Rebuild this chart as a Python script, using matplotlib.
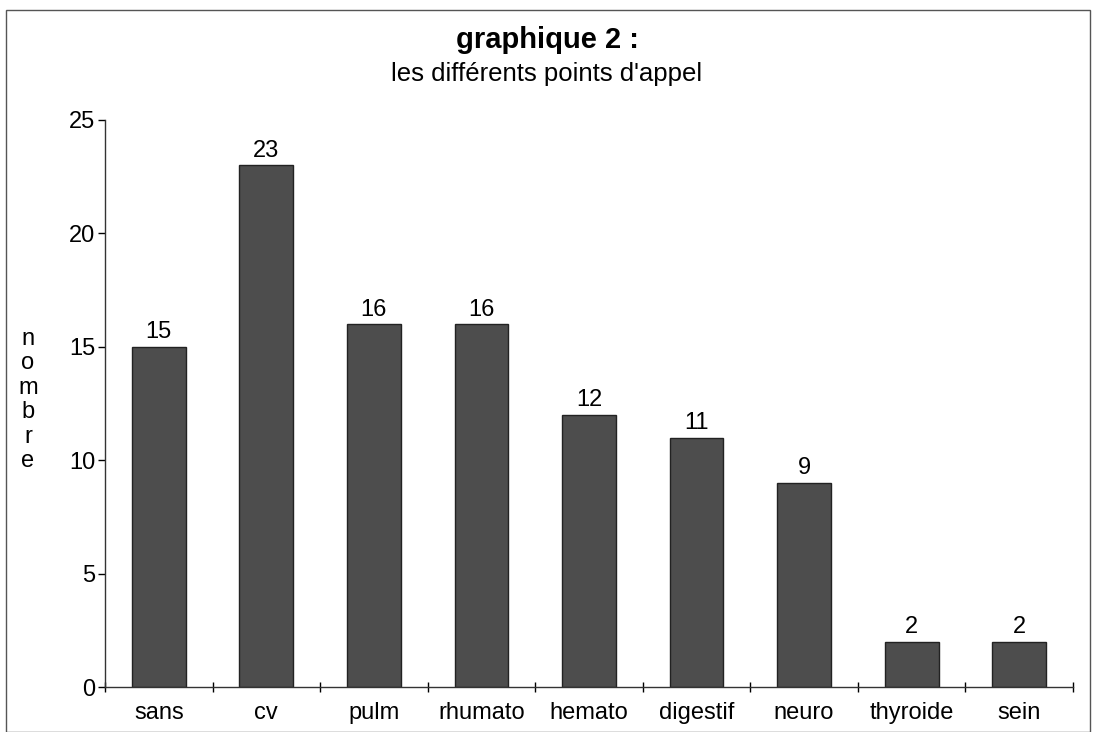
import matplotlib
matplotlib.use('Agg')
import matplotlib.pyplot as plt
from matplotlib.patches import Rectangle

categories = ['sans', 'cv', 'pulm', 'rhumato', 'hemato', 'digestif', 'neuro', 'thyroide', 'sein']
counts = [15, 23, 16, 16, 12, 11, 9, 2, 2]
y_ticks = [0, 5, 10, 15, 20, 25]

plt.rcParams['font.family'] = ['Liberation Sans', 'DejaVu Sans']

fig = plt.figure(figsize=(10.94, 7.32), dpi=100)
ax = fig.add_axes([105 / 1094, 45 / 732, 968 / 1094, 567 / 732])

x = list(range(len(categories)))
bars = ax.bar(x, counts, width=0.5, color='#4d4d4d', edgecolor='#222222', linewidth=1)
for xi, v in zip(x, counts):
    ax.text(xi, v + 0.15, str(v), ha='center', va='bottom', fontsize=17)

ax.set_xlim(-0.5, len(categories) - 0.5)
ax.set_ylim(0, 25)
ax.set_yticks(y_ticks)
ax.tick_params(axis='y', labelsize=17, direction='out', length=5, width=1, pad=2)
ax.set_xticks(x)
ax.set_xticklabels(categories)
ax.set_xticks([i - 0.5 for i in range(len(categories) + 1)], minor=True)
ax.tick_params(axis='x', which='major', length=0, labelsize=17, pad=11)
ax.tick_params(axis='x', which='minor', direction='inout', length=7, width=1)
for side in ['top', 'right']:
    ax.spines[side].set_visible(False)
for side in ['left', 'bottom']:
    ax.spines[side].set_linewidth(1)
    ax.spines[side].set_color('#333333')

fig.text(0.5, 1 - 40 / 732, 'graphique 2 :', ha='center', va='center', fontsize=21, fontweight='bold')
fig.text(0.5, 1 - 74 / 732, "les différents points d'appel", ha='center', va='center', fontsize=18.5)
fig.text(28 / 1094, 1 - 400 / 732, '\n'.join('nombre'), ha='center', va='center', fontsize=17, linespacing=1.15)

fig.add_artist(Rectangle((6 / 1094, 0), 1084 / 1094, 1 - 10 / 732, transform=fig.transFigure,
                         fill=False, edgecolor='#555555', linewidth=1))

fig.savefig('out.png', dpi=100)
